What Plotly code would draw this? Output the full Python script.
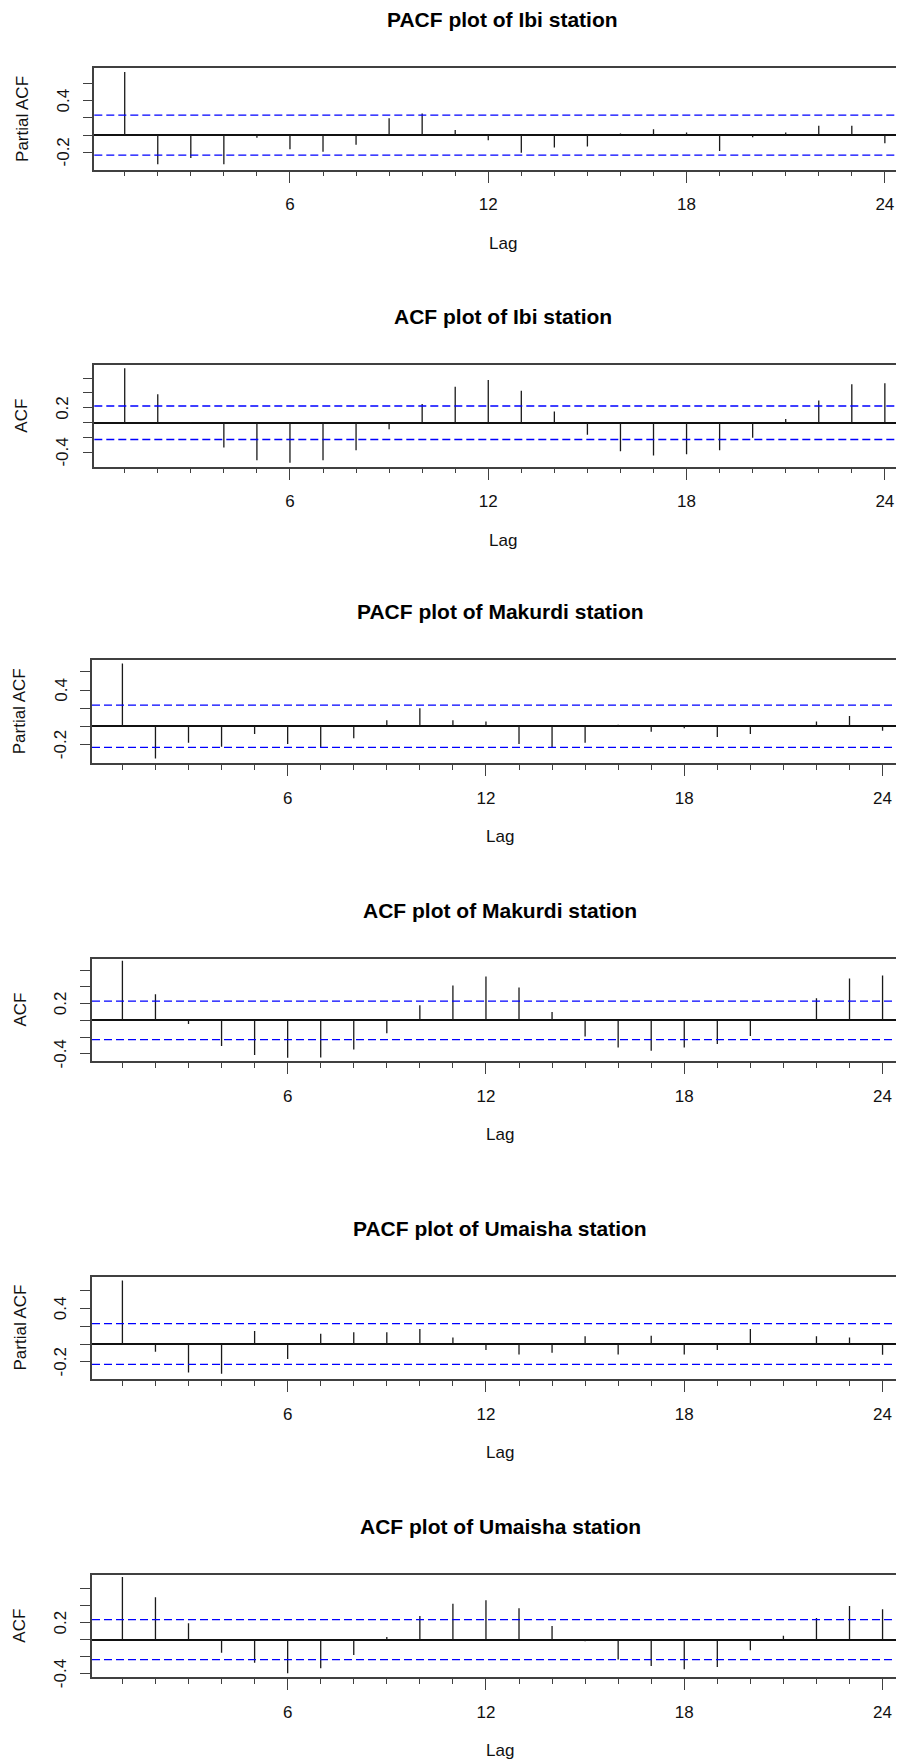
import plotly.graph_objects as go

# ---------------- data ----------------
lags = list(range(1, 25))

titles = [
    "PACF plot of Ibi station",
    "ACF plot of Ibi station",
    "PACF plot of Makurdi station",
    "ACF plot of Makurdi station",
    "PACF plot of Umaisha station",
    "ACF plot of Umaisha station",
]
y_titles = ["Partial ACF", "ACF", "Partial ACF", "ACF", "Partial ACF", "ACF"]

pacf_ibi = [0.728, -0.335, -0.264, -0.335, -0.030, -0.162, -0.193, -0.112, 0.193, 0.249,
            0.058, -0.058, -0.203, -0.142, -0.132, 0.020, 0.069, 0.030, -0.183, -0.026,
            0.030, 0.108, 0.108, -0.095]
acf_ibi = [0.733, 0.382, 0.010, -0.333, -0.502, -0.538, -0.502, -0.369, -0.089, 0.253,
           0.484, 0.573, 0.431, 0.151, -0.160, -0.382, -0.440, -0.422, -0.369, -0.200,
           0.049, 0.298, 0.516, 0.529]
pacf_makurdi = [0.693, -0.356, -0.181, -0.226, -0.085, -0.196, -0.233, -0.133, 0.067, 0.200,
                0.067, 0.052, -0.196, -0.233, -0.181, 0.018, -0.059, -0.022, -0.119, -0.085,
                0.005, 0.052, 0.115, -0.048]
acf_makurdi = [0.712, 0.312, -0.044, -0.308, -0.416, -0.448, -0.444, -0.348, -0.156, 0.180,
               0.416, 0.524, 0.392, 0.100, -0.192, -0.324, -0.364, -0.324, -0.284, -0.188,
               0.003, 0.264, 0.500, 0.536]
pacf_umaisha = [0.717, -0.087, -0.321, -0.336, 0.147, -0.170, 0.117, 0.132, 0.132, 0.170,
                0.072, -0.068, -0.117, -0.098, 0.087, -0.117, 0.094, -0.117, -0.068, 0.170,
                0.004, 0.087, 0.072, -0.120]
acf_umaisha = [0.740, 0.500, 0.193, -0.154, -0.272, -0.398, -0.339, -0.181, 0.031, 0.280,
               0.425, 0.465, 0.370, 0.161, -0.020, -0.236, -0.311, -0.350, -0.323, -0.126,
               0.047, 0.255, 0.398, 0.358]

series = [pacf_ibi, acf_ibi, pacf_makurdi, acf_makurdi, pacf_umaisha, acf_umaisha]
conf_limits = [0.23, 0.225, 0.233, 0.23, 0.23, 0.236]

x_major_ticks = [6, 12, 18, 24]
pacf_yticks = [-0.2, 0.0, 0.2, 0.4, 0.6]
pacf_ylabels = ["-0.2", "", "", "0.4", ""]
acf_yticks = [-0.4, -0.2, 0.0, 0.2, 0.4, 0.6]
acf_ylabels = ["-0.4", "", "", "0.2", "", ""]

# ---------------- layout geometry (screen pixels) ----------------
SCREEN_W = 904
OFF = 8                      # page body margin of the html page
W, H = 896, 1756             # figure size so that figure + margin fills the window
y_ranges = [(-0.402, 0.770), (-0.590, 0.775), (-0.408, 0.728),
            (-0.490, 0.737), (-0.398, 0.759), (-0.445, 0.764)]
box_px = [(68.3, 170.0), (365.0, 466.7), (660.3, 763.3),
          (958.7, 1061.3), (1276.7, 1379.3), (1575.0, 1677.3)]
box_left = [94.3, 94.3, 92.0, 92.0, 92.0, 92.0]
px_per_lag = 33.05
x_lo = 0.08
x_full_hi = 24.92


def xp(sx):
    return (sx - OFF) / W


def yp(sy):
    return 1 - (sy - OFF) / H


FONT = "Liberation Sans, Arial, sans-serif"
TXT = "#111111"
AX = "#404040"

fig = go.Figure()
layout = dict(
    width=W, height=H,
    margin=dict(l=0, r=0, t=0, b=0, pad=0),
    paper_bgcolor="white", plot_bgcolor="white",
    showlegend=False,
    font=dict(family=FONT, color=TXT, size=17),
)
shapes = []
annotations = []

for i, vals in enumerate(series):
    n = i + 1
    xa = "xaxis" if n == 1 else f"xaxis{n}"
    ya = "yaxis" if n == 1 else f"yaxis{n}"
    xr = "x" if n == 1 else f"x{n}"
    yr = "y" if n == 1 else f"y{n}"
    left = box_left[i]
    top, bot = box_px[i]
    x_hi = x_lo + (SCREEN_W - left) / px_per_lag
    is_pacf = y_titles[i] == "Partial ACF"
    yticks = pacf_yticks if is_pacf else acf_yticks
    ylabels = pacf_ylabels if is_pacf else acf_ylabels

    layout[xa] = dict(
        domain=[xp(left), 1.0], range=[x_lo, x_hi], anchor=yr, automargin=False,
        tickmode="array", tickvals=x_major_ticks, ticktext=[str(v) for v in x_major_ticks],
        ticks="outside", ticklen=11, tickwidth=1.3, tickcolor=AX,
        showline=True, linecolor=AX, linewidth=1.6, mirror=True,
        showgrid=False, zeroline=False,
        tickfont=dict(size=17, color=TXT, family=FONT),
        ticklabelstandoff=7,
        minor=dict(tickmode="array", tickvals=lags, ticks="outside", ticklen=4.5,
                   tickwidth=1.3, tickcolor=AX, showgrid=False),
        fixedrange=True,
    )
    layout[ya] = dict(
        domain=[yp(bot), yp(top)], range=list(y_ranges[i]), anchor=xr, automargin=False,
        tickmode="array", tickvals=yticks, showticklabels=False,
        ticks="outside", ticklen=10, tickwidth=1.3, tickcolor=AX,
        showline=True, linecolor=AX, linewidth=1.6, mirror=False,
        showgrid=False,
        zeroline=True, zerolinecolor="#111111", zerolinewidth=1.6,
        fixedrange=True,
    )

    # y tick labels, parallel to the axis (R style), placed on the axis scale
    for tv, tl in zip(yticks, ylabels):
        if tl:
            annotations.append(dict(text=tl, xref="paper", yref=yr,
                                    x=xp(left - 31.3), y=tv,
                                    xanchor="center", yanchor="middle", textangle=-90,
                                    showarrow=False, font=dict(size=17, color=TXT, family=FONT)))

    # spikes built from the data
    xs, ys = [], []
    for lag, v in zip(lags, vals):
        xs += [lag, lag, None]
        ys += [0, v, None]
    fig.add_trace(go.Scatter(x=xs, y=ys, mode="lines", xaxis=xr, yaxis=yr,
                             line=dict(color="#1a1a1a", width=1.3), hoverinfo="skip"))

    # confidence bounds
    c = conf_limits[i]
    for yv in (c, -c):
        shapes.append(dict(type="line", xref=f"{xr} domain", yref=yr,
                           x0=0, x1=1, y0=yv, y1=yv,
                           line=dict(color="#0000FF", width=1.3, dash="8px,4px")))

    cx = left + 0.5 * (x_full_hi - x_lo) * px_per_lag - 2
    annotations.append(dict(text=f"<b>{titles[i]}</b>", xref="paper", yref="paper",
                            x=xp(cx), y=yp(top - 48.5), xanchor="center", yanchor="middle",
                            showarrow=False, font=dict(size=21, color="#000000", family=FONT)))
    annotations.append(dict(text="Lag", xref="paper", yref="paper",
                            x=xp(cx), y=yp(bot + 73.5), xanchor="center", yanchor="middle",
                            showarrow=False, font=dict(size=17, color=TXT, family=FONT)))
    annotations.append(dict(text=y_titles[i], xref="paper", yref="paper",
                            x=xp(left - 72.5), y=yp((top + bot) / 2),
                            xanchor="center", yanchor="middle", textangle=-90,
                            showarrow=False, font=dict(size=17, color=TXT, family=FONT)))

layout["shapes"] = shapes
layout["annotations"] = annotations
fig.update_layout(**layout)
fig.write_html("out.html")
